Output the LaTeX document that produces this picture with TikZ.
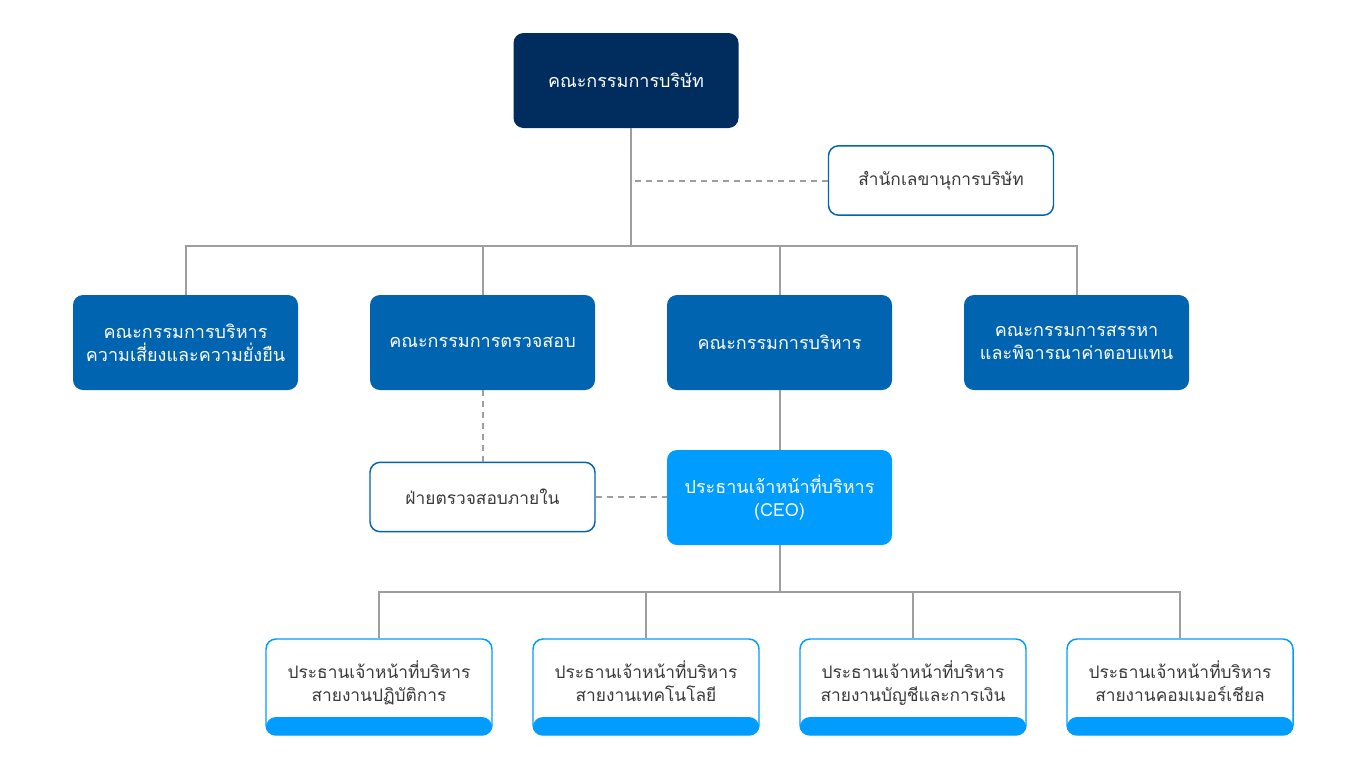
\documentclass[tikz,border=0pt]{standalone}
\usepackage{fontspec}
\newfontfamily\thaifont[Script=Thai]{Loma}
\usetikzlibrary{positioning}
\definecolor{navy}{HTML}{002D5E}
\definecolor{corpblue}{HTML}{0064B0}
\definecolor{skyblue}{HTML}{009CFF}
\definecolor{linegray}{HTML}{9E9E9E}
\definecolor{textgray}{HTML}{3A3A3A}
\tikzset{
  box/.style={rectangle, rounded corners=7.5pt, minimum width=168.75pt, minimum height=71.25pt,
    align=center, inner sep=0pt, font=\thaifont\fontsize{13.5}{17.5}\selectfont},
  boardbox/.style={box, fill=navy, text=white},
  combox/.style={box, fill=corpblue, text=white},
  ceobox/.style={box, fill=skyblue, text=white},
  staffbox/.style={box, fill=white, draw=corpblue, line width=1.1pt, text=textgray, minimum height=52pt,
    font=\thaifont\fontsize{13}{17}\selectfont},
  unitbox/.style={box, fill=white, draw=skyblue, line width=1.1pt, text=textgray,
    minimum width=169.5pt, minimum height=72pt, text depth=9pt,
    font=\thaifont\fontsize{13}{17}\selectfont,
    path picture={\fill[skyblue] (path picture bounding box.south west) rectangle
      ([yshift=13.5pt]path picture bounding box.south east);}},
  link/.style={draw=linegray, line width=1.5pt},
  dashlink/.style={link, dash pattern=on 4.5pt off 3.75pt},
}

\begin{document}
\begin{tikzpicture}[x=0.75pt, y=-0.75pt]
\useasboundingbox (0,0) rectangle (1366,768);%%
% board and secretary
\node[boardbox] (board) at (626,80.5) {คณะกรรมการบริษัท};%%
\node[staffbox] (secretary) at (941,180.5) {สำนักเลขานุการบริษัท};%%
% committees
\node[combox] (riskc) at (185.5,342.5) {คณะกรรมการบริหาร\\ความเสี่ยงและความยั่งยืน};%%
\node[combox] (auditc) at (482.5,342.5) {คณะกรรมการตรวจสอบ};%%
\node[combox] (execc) at (779.5,342.5) {คณะกรรมการบริหาร};%%
\node[combox] (nomc) at (1076.5,342.5) {คณะกรรมการสรรหา\\และพิจารณาค่าตอบแทน};%%
% ceo and internal audit
\node[staffbox] (audit) at (482.5,497) {ฝ่ายตรวจสอบภายใน};%%
\node[ceobox] (ceo) at (779.5,497.5) {ประธานเจ้าหน้าที่บริหาร\\(CEO)};%%
% business units
\node[unitbox] (ops) at (379,687) {ประธานเจ้าหน้าที่บริหาร\\สายงานปฏิบัติการ};%%
\node[unitbox] (tech) at (646,687) {ประธานเจ้าหน้าที่บริหาร\\สายงานเทคโนโลยี};%%
\node[unitbox] (fin) at (913,687) {ประธานเจ้าหน้าที่บริหาร\\สายงานบัญชีและการเงิน};%%
\node[unitbox] (com) at (1180,687) {ประธานเจ้าหน้าที่บริหาร\\สายงานคอมเมอร์เชียล};%%
% connectors
\coordinate (trunk) at (631,246);%%
\coordinate (unitbus) at (779.5,592);%%
\draw[link] (board.south -| trunk) -- (trunk);%%
\draw[dashlink] (secretary.west) -- (secretary.west -| trunk);%%
\draw[link] (riskc.north) -- (riskc.north |- trunk) -- (nomc.north |- trunk) -- (nomc.north);%%
\draw[link] (auditc.north) -- (auditc.north |- trunk);%%
\draw[link] (execc.north) -- (execc.north |- trunk);%%
\draw[dashlink] (auditc.south) -- (audit.north);%%
\draw[link] (execc.south) -- (ceo.north);%%
\draw[dashlink] (audit.east) -- (audit.east -| ceo.west);%%
\draw[link] (ceo.south) -- (unitbus);%%
\draw[link] (ops.north) -- (ops.north |- unitbus) -- (com.north |- unitbus) -- (com.north);%%
\draw[link] (tech.north) -- (tech.north |- unitbus);%%
\draw[link] (fin.north) -- (fin.north |- unitbus);%%
\end{tikzpicture}
\end{document}
